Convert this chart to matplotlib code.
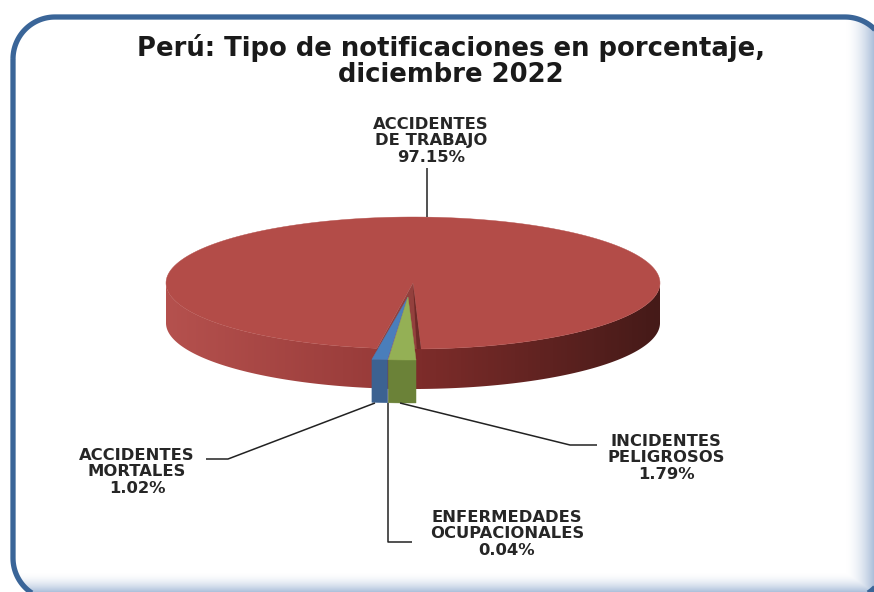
import numpy as np
import matplotlib
matplotlib.use("Agg")
import matplotlib.pyplot as plt
from matplotlib.colors import LinearSegmentedColormap
from matplotlib.patches import Polygon

plt.rcParams['font.family'] = ['DejaVu Sans']

title = "Perú: Tipo de notificaciones en porcentaje,\ndiciembre 2022"
names = ["ACCIDENTES\nMORTALES", "ENFERMEDADES\nOCUPACIONALES", "INCIDENTES\nPELIGROSOS", "ACCIDENTES\nDE TRABAJO"]
values = [1.02, 0.04, 1.79, 97.15]
top_colors = ["#4a7ebb", "#7d60a0", "#94b055", "#b34c48"]
side_colors = ["#3c6291", "#5f4a80", "#6b8238", "#8a3533"]


def rim(cx, cy, a1, a2, rx=247, ry=66, n=200):
    # angle is measured from the front of the pie, positive to the right
    a = np.radians(np.linspace(a1, a2, n))
    return np.column_stack([cx + rx * np.sin(a), cy + ry * np.cos(a)])


def rounded_box(x0, y0, x1, y1, r):
    # plain polyline, agg clips curves badly when they leave the canvas
    t = np.radians(np.linspace(0, 90, 40))
    s, c = np.sin(t), np.cos(t)
    pts = [np.column_stack([x0 + r - r * c, y0 + r - r * s]),
           np.column_stack([x1 - r + r * s, y0 + r - r * c]),
           np.column_stack([x1 - r + r * c, y1 - r + r * s]),
           np.column_stack([x0 + r - r * s, y1 - r + r * c])]
    return np.vstack(pts)


fig = plt.figure(figsize=(8.74, 5.92), dpi=100, facecolor="white")
ax = fig.add_axes([0, 0, 1, 1])
ax.set_xlim(0, 874)
ax.set_ylim(592, 0)
ax.axis("off")
ax.set_autoscale_on(False)

# panel with a soft blue shade towards right and bottom
xx, yy = np.meshgrid(np.arange(874), np.arange(592))
shade = np.maximum(np.clip((xx - 845) / 29, 0, 1), np.clip((yy - 572) / 20, 0, 1)) ** 1.8
img = np.ones((592, 874, 3))
for i, c in enumerate([0.66, 0.74, 0.85]):
    img[:, :, i] = 1 - shade * (1 - c)
im = ax.imshow(img, extent=[0, 874, 592, 0], aspect="auto", zorder=0)
box = Polygon(rounded_box(13, 17, 887, 600, 42), closed=True, fc="none", ec="#3a6598", lw=3.8, zorder=1)
ax.add_patch(box)
im.set_clip_path(box)

ax.text(451, 61, title, ha="center", va="center", fontsize=18.6, fontweight="bold",
        color="#1a1a1a", linespacing=1.05, zorder=5)

# slice angles from the values, first slice starts left of the front
angles = -8.4 + np.concatenate([[0], np.cumsum(values)]) * 3.6

# red slice: side as a gradient clipped to the front rim
cx, cy = 413, 283
depth = 40
side_cmap = LinearSegmentedColormap.from_list(
    "side", [(0, "#b5514e"), (0.42, "#993c3a"), (0.52, "#7d2c2a"), (1, "#451a18")])
front = rim(cx, cy, -90, 90, n=300)
side = Polygon(np.vstack([front, front[::-1] + [0, depth]]), closed=True, fc="none", ec="none")
ax.add_patch(side)
grad = ax.imshow(np.linspace(0, 1, 495)[None, :], cmap=side_cmap, extent=[165, 660, 395, 275],
                 aspect="auto", zorder=2)
grad.set_clip_path(side)

arc = rim(cx, cy, angles[3], 351.6)
ax.add_patch(Polygon(np.vstack([[cx, cy], arc]), fc=top_colors[3], ec=top_colors[3], lw=0.3, zorder=2))
# inner cut of the red slice
notch = rim(cx, cy, angles[0], angles[3], n=20)
ax.add_patch(Polygon(np.vstack([notch, notch[::-1] + [0, depth]]), fc="#7d2c2a", ec="none", zorder=2))
ax.add_patch(Polygon(np.vstack([[cx, cy], notch]), fc="#93403d", ec="none", zorder=2))
cut = rim(cx, cy, angles[3] - 1, angles[3], n=5)
ax.add_patch(Polygon(np.vstack([[cx, cy], cut]), fc="#6f2a28", ec="none", zorder=2))

# the three small slices are pulled out of the pie
wx, wy, wdepth = 408, 297, 43
for i in range(3):
    arc = rim(wx, wy, angles[i], angles[i + 1], ry=63)
    ax.add_patch(Polygon(np.vstack([arc, arc[::-1] + [0, wdepth]]), fc=side_colors[i], ec=side_colors[i],
                         lw=0.3, zorder=3))
    ax.add_patch(Polygon(np.vstack([[wx, wy], arc]), fc=top_colors[i], ec=top_colors[i], lw=0.3, zorder=3))

# leader lines
line = dict(color="#222222", lw=1.1, zorder=4, solid_capstyle="butt")
ax.plot([427, 427], [168, 217], **line)
ax.plot([206, 228, 375], [459, 459, 403], **line)
ax.plot([388, 388, 412], [403, 542, 542], **line)
ax.plot([400, 570, 597], [403, 445, 445], **line)

lab = dict(ha="center", va="center", fontsize=11.8, fontweight="bold", color="#262626", linespacing=1.15, zorder=5)
ax.text(431, 141, f"{names[3]}\n{values[3]:.2f}%", **lab)
ax.text(137, 472, f"{names[0]}\n{values[0]:.2f}%", **lab)
ax.text(507, 534, f"{names[1]}\n{values[1]:.2f}%", **lab)
ax.text(666, 458, f"{names[2]}\n{values[2]:.2f}%", **lab)

fig.savefig("out.png", dpi=100)
